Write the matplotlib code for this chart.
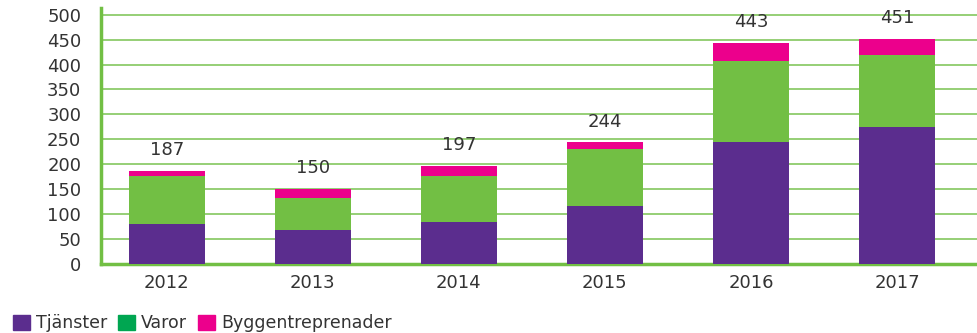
import matplotlib.pyplot as plt
import matplotlib.patches as mpatches
import numpy as np

# Antal per år och kategori
years = ["2012", "2013", "2014", "2015", "2016", "2017"]
tjanster = [80, 68, 84, 116, 245, 275]
varor = [97, 64, 93, 115, 163, 145]
bygg = [10, 18, 20, 13, 35, 31]
totals = [187, 150, 197, 244, 443, 451]

purple = "#5B2D8E"
green = "#72BF44"
pink = "#EC008C"
legend_green = "#00A651"

fig = plt.figure(figsize=(9.78, 3.33), dpi=100)
ax = fig.add_axes([0.103, 0.207, 0.897, 0.77])

x = np.arange(len(years))
w = 0.52
ax.bar(x, tjanster, w, color=purple, zorder=3)
ax.bar(x, varor, w, bottom=tjanster, color=green, zorder=3)
ax.bar(x, bygg, w, bottom=np.add(tjanster, varor), color=pink, zorder=3)

for xi, t in zip(x, totals):
    ax.annotate(str(t), (xi, t), xytext=(0, 15), textcoords="offset points",
                ha="center", va="center", fontsize=13, color="#333333")

ax.set_ylim(0, 514)
ax.set_xlim(-0.452, 5.555)
ax.set_yticks(range(0, 501, 50))
ax.set_xticks(x)
ax.set_xticklabels(years)
ax.yaxis.grid(True, color="#8DCB6B", linewidth=1.3, zorder=0)
ax.tick_params(length=0, labelsize=13, labelcolor="#333333")
ax.tick_params(axis="x", pad=7)
ax.tick_params(axis="y", pad=14)
for s in ["top", "right"]:
    ax.spines[s].set_visible(False)
for s in ["left", "bottom"]:
    ax.spines[s].set_color(green)
    ax.spines[s].set_linewidth(2.5)

handles = [mpatches.Patch(color=purple, label="Tjänster"),
           mpatches.Patch(color=legend_green, label="Varor"),
           mpatches.Patch(color=pink, label="Byggentreprenader")]
fig.legend(handles=handles, loc="lower left", bbox_to_anchor=(-0.003, -0.045),
           ncol=3, frameon=False, fontsize=12.5, handlelength=1.0,
           handleheight=1.0, handletextpad=0.35, columnspacing=0.6,
           labelcolor="#333333")

fig.savefig("out.png", dpi=100)
